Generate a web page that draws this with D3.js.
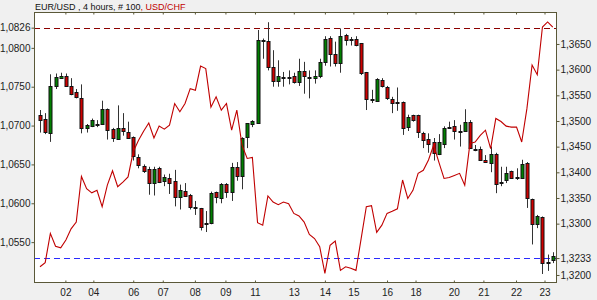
<!DOCTYPE html>
<html>
<head>
<meta charset="utf-8">
<script src="https://cdn.jsdelivr.net/npm/d3@7/dist/d3.min.js"></script>
<style>
  body { margin: 0; background: #f0f0f0; }
  svg { display: block; font-family: "Liberation Sans", Arial, sans-serif; }
  .tick text { fill: #222; }
</style>
</head>
<body>
<div id="chart"></div>
<script>
// EUR/USD 4h candles (100 bars) and USD/CHF closes
var eurOpen = [1.0713,1.0709,1.0691,1.0751,1.0762,1.0764,1.0751,1.0743,1.0736,1.0697,
  1.0699,1.0701,1.0702,1.0721,1.0695,1.0683,1.0697,1.0692,1.0685,1.0659,
  1.0648,1.0644,1.0626,1.0645,1.0629,1.0633,1.0629,1.0608,1.0616,1.0611,
  1.0595,1.0594,1.0573,1.0574,1.0614,1.0607,1.0625,1.0615,1.0647,1.0635,
  1.0685,1.0702,1.0703,1.0810,1.0809,1.0776,1.0757,1.0763,1.0762,1.0764,
  1.0756,1.0770,1.0762,1.0761,1.0764,1.0782,1.0813,1.0792,1.0780,1.0816,
  1.0811,1.0811,1.0806,1.0769,1.0734,1.0732,1.0758,1.0749,1.0734,1.0730,
  1.0730,1.0698,1.0713,1.0714,1.0691,1.0683,1.0679,1.0664,1.0677,1.0698,
  1.0699,1.0693,1.0694,1.0705,1.0670,1.0670,1.0656,1.0652,1.0664,1.0627,
  1.0630,1.0641,1.0634,1.0632,1.0652,1.0606,1.0573,1.0582,1.0525,1.0527];
var eurHigh = [1.0720,1.0716,1.0766,1.0767,1.0768,1.0767,1.0761,1.0747,1.0753,1.0702,
  1.0709,1.0707,1.0732,1.0722,1.0697,1.0726,1.0716,1.0705,1.0686,1.0663,
  1.0650,1.0647,1.0647,1.0647,1.0637,1.0638,1.0643,1.0624,1.0626,1.0612,
  1.0603,1.0594,1.0590,1.0615,1.0615,1.0626,1.0626,1.0652,1.0653,1.0685,
  1.0703,1.0707,1.0823,1.0812,1.0833,1.0797,1.0784,1.0769,1.0771,1.0768,
  1.0786,1.0782,1.0771,1.0771,1.0786,1.0815,1.0815,1.0808,1.0825,1.0818,
  1.0814,1.0815,1.0806,1.0769,1.0746,1.0761,1.0761,1.0751,1.0737,1.0749,
  1.0731,1.0714,1.0714,1.0714,1.0692,1.0690,1.0684,1.0689,1.0699,1.0705,
  1.0707,1.0701,1.0721,1.0707,1.0675,1.0673,1.0662,1.0673,1.0665,1.0647,
  1.0647,1.0642,1.0645,1.0656,1.0653,1.0606,1.0585,1.0583,1.0534,1.0537];
var eurLow = [1.0691,1.0689,1.0679,1.0747,1.0760,1.0750,1.0739,1.0735,1.0690,1.0691,
  1.0698,1.0698,1.0701,1.0682,1.0679,1.0682,1.0687,1.0683,1.0655,1.0645,
  1.0639,1.0611,1.0610,1.0626,1.0622,1.0612,1.0596,1.0592,1.0609,1.0592,
  1.0585,1.0565,1.0563,1.0573,1.0600,1.0600,1.0607,1.0603,1.0629,1.0618,
  1.0671,1.0698,1.0702,1.0786,1.0771,1.0750,1.0750,1.0750,1.0753,1.0754,
  1.0751,1.0741,1.0735,1.0754,1.0761,1.0777,1.0776,1.0776,1.0768,1.0803,
  1.0803,1.0802,1.0765,1.0720,1.0729,1.0731,1.0749,1.0733,1.0716,1.0719,
  1.0688,1.0693,1.0705,1.0684,1.0671,1.0665,1.0655,1.0662,1.0671,1.0696,
  1.0682,1.0673,1.0692,1.0670,1.0667,1.0655,1.0652,1.0640,1.0613,1.0622,
  1.0626,1.0632,1.0630,1.0632,1.0594,1.0547,1.0568,1.0509,1.0513,1.0523];
var eurClose = [1.0707,1.0692,1.0751,1.0762,1.0764,1.0751,1.0741,1.0737,1.0698,1.0701,
  1.0707,1.0702,1.0721,1.0694,1.0683,1.0697,1.0693,1.0684,1.0660,1.0649,
  1.0642,1.0626,1.0644,1.0627,1.0634,1.0627,1.0608,1.0617,1.0610,1.0595,
  1.0594,1.0570,1.0574,1.0613,1.0608,1.0625,1.0615,1.0647,1.0635,1.0684,
  1.0703,1.0706,1.0810,1.0809,1.0776,1.0758,1.0764,1.0763,1.0763,1.0756,
  1.0770,1.0764,1.0761,1.0764,1.0782,1.0811,1.0792,1.0780,1.0815,1.0809,
  1.0810,1.0803,1.0768,1.0734,1.0734,1.0760,1.0750,1.0735,1.0729,1.0730,
  1.0697,1.0711,1.0707,1.0692,1.0682,1.0677,1.0665,1.0679,1.0697,1.0698,
  1.0692,1.0693,1.0705,1.0671,1.0670,1.0656,1.0654,1.0663,1.0625,1.0626,
  1.0639,1.0632,1.0634,1.0650,1.0607,1.0574,1.0583,1.0523,1.0524,1.0532];
var chfClose = [1.3216,1.3224,1.3281,1.3256,1.3253,1.3268,1.3290,1.3303,1.3392,1.3368,
  1.3360,1.3365,1.3333,1.3375,1.3403,1.3372,1.3381,1.3391,1.3440,1.3462,
  1.3480,1.3496,1.3467,1.3490,1.3484,1.3492,1.3534,1.3518,1.3534,1.3563,
  1.3560,1.3607,1.3602,1.3527,1.3547,1.3521,1.3534,1.3482,1.3521,1.3453,
  1.3427,1.3429,1.3302,1.3297,1.3354,1.3342,1.3337,1.3342,1.3339,1.3320,
  1.3315,1.3303,1.3279,1.3271,1.3255,1.3203,1.3258,1.3266,1.3209,1.3216,
  1.3213,1.3209,1.3271,1.3333,1.3335,1.3283,1.3297,1.3320,1.3324,1.3329,
  1.3385,1.3349,1.3365,1.3398,1.3404,1.3424,1.3453,1.3420,1.3388,1.3390,
  1.3394,1.3398,1.3375,1.3456,1.3459,1.3472,1.3482,1.3446,1.3505,1.3499,
  1.3490,1.3488,1.3488,1.3459,1.3524,1.3609,1.3590,1.3683,1.3693,1.3683];

// day labels and the bar position where each sits
var dayLabels = ["02","04","06","07","08","09","11","13","14","15","16","18","20","21","22","23"];
var dayIndex = [4.9,10.3,18,23.7,29.9,35.8,41.5,49,55,60.5,67,72.5,79.9,85.6,91.9,97.4];

var leftTicks = [1.055,1.060,1.065,1.070,1.075,1.080];
var rightTicks = [1.320,1.330,1.335,1.340,1.345,1.350,1.355,1.360,1.365];
var leftMark = 1.0826;   // red dashed level
var rightMark = 1.3233;  // blue dashed level

var svg_w = 597, svg_h = 300;
var plot = {left: 34, right: 557, top: 12, bottom: 283};

var fmt = function(v) { return d3.format(".4f")(v).replace(".", ","); };

var svg = d3.select("#chart").append("svg")
    .attr("width", svg_w)
    .attr("height", svg_h);

svg.append("rect")
    .attr("width", svg_w).attr("height", svg_h)
    .attr("fill", "#f0f0f0");

svg.append("rect")
    .attr("x", plot.left).attr("y", plot.top)
    .attr("width", plot.right - plot.left).attr("height", plot.bottom - plot.top)
    .attr("fill", "#fff");

//scales
var x = d3.scaleLinear().domain([0, 99]).range([40, 552.8]);
var yL = d3.scaleLinear().domain([1.04974, 1.084615]).range([plot.bottom, plot.top]);
var yR = d3.scaleLinear().domain([1.31844, 1.37123]).range([plot.bottom, plot.top]);

//level lines
svg.append("line")
    .attr("x1", plot.left).attr("x2", plot.right)
    .attr("y1", Math.round(yL(leftMark)) + 0.5).attr("y2", Math.round(yL(leftMark)) + 0.5)
    .attr("stroke", "#8b0000").attr("stroke-dasharray", "6,4");
svg.append("line")
    .attr("x1", plot.left).attr("x2", plot.right)
    .attr("y1", Math.round(yR(rightMark)) + 0.5).attr("y2", Math.round(yR(rightMark)) + 0.5)
    .attr("stroke", "#2a2aff").attr("stroke-dasharray", "6,4");

//candles
var bars = d3.range(100).map(function(i) {
    return {i: i, o: eurOpen[i], h: eurHigh[i], l: eurLow[i], c: eurClose[i]};
});

var candle = svg.append("g").selectAll("g")
    .data(bars)
    .enter().append("g");

candle.append("line")
    .attr("x1", function(d) { return Math.round(x(d.i)) + 0.5; })
    .attr("x2", function(d) { return Math.round(x(d.i)) + 0.5; })
    .attr("y1", function(d) { return yL(d.h); })
    .attr("y2", function(d) { return yL(d.l); })
    .attr("stroke", "#333");

candle.append("rect")
    .attr("x", function(d) { return Math.round(x(d.i)) - 1; })
    .attr("y", function(d) { return Math.round(yL(Math.max(d.o, d.c))) + 0.5; })
    .attr("width", 3)
    .attr("height", function(d) { return Math.max(1, Math.round(Math.abs(yL(d.o) - yL(d.c)))); })
    .attr("fill", function(d) { return d.c >= d.o ? "#008000" : "#d00000"; })
    .attr("stroke", "#111")
    .attr("stroke-width", 1);

//usd/chf line
var line = d3.line()
    .x(function(d, i) { return x(i); })
    .y(function(d) { return yR(d); });

svg.append("path")
    .datum(chfClose)
    .attr("d", line)
    .attr("fill", "none")
    .attr("stroke", "#c00000")
    .attr("stroke-width", 1.1);

//frame
svg.append("rect")
    .attr("x", plot.left + 0.5).attr("y", plot.top + 0.5)
    .attr("width", plot.right - plot.left - 1).attr("height", plot.bottom - plot.top - 1)
    .attr("fill", "none")
    .attr("stroke", "#5a5838");

//axes
var gl = svg.append("g")
    .attr("transform", "translate(" + (plot.left + 0.5) + ",0)")
    .call(d3.axisLeft(yL).tickValues(leftTicks.concat([leftMark])).tickFormat(fmt).tickSize(3).tickPadding(1));
gl.select(".domain").remove();
gl.selectAll("line").attr("stroke", "#5a5838");
gl.selectAll("text").attr("font-size", 10).attr("font-family", "Liberation Sans, Arial, sans-serif")
    .attr("fill", function(d) { return d === leftMark ? "#c00000" : "#222"; });

var gr = svg.append("g")
    .attr("transform", "translate(" + (plot.right - 0.5) + ",0)")
    .call(d3.axisRight(yR).tickValues(rightTicks.concat([rightMark])).tickFormat(fmt).tickSize(3).tickPadding(1));
gr.select(".domain").remove();
gr.selectAll("line").attr("stroke", "#5a5838");
gr.selectAll("text").attr("font-size", 10).attr("font-family", "Liberation Sans, Arial, sans-serif")
    .attr("fill", function(d) { return d === rightMark ? "#2020ff" : "#222"; });

var gb = svg.append("g")
    .attr("transform", "translate(0," + (plot.bottom - 0.5) + ")")
    .call(d3.axisBottom(x).tickValues(dayIndex).tickSize(-2).tickPadding(6)
        .tickFormat(function(d, i) { return dayLabels[i]; }));
gb.select(".domain").remove();
gb.selectAll("line").attr("stroke", "#5a5838");
gb.selectAll("text").attr("font-size", 10).attr("font-family", "Liberation Sans, Arial, sans-serif").attr("fill", "#222");

var gt = svg.append("g")
    .attr("transform", "translate(0," + (plot.top + 0.5) + ")")
    .call(d3.axisTop(x).tickValues(dayIndex).tickSize(-2).tickFormat(""));
gt.select(".domain").remove();
gt.selectAll("line").attr("stroke", "#5a5838");

//title
var title = svg.append("text")
    .attr("x", 35).attr("y", 10)
    .attr("font-size", 9)
    .attr("fill", "#111");
title.append("tspan").text("EUR/USD , 4 hours, # 100");
title.append("tspan").attr("fill", "#c00000").text(", USD/CHF");
</script>
</body>
</html>
